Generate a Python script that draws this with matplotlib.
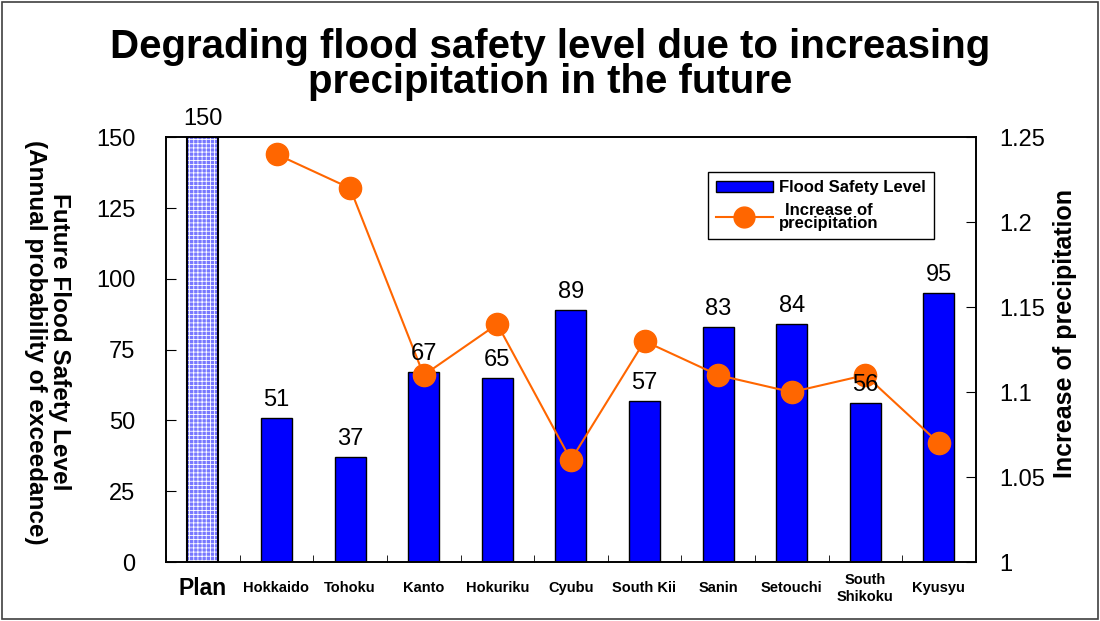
import numpy as np
import matplotlib.pyplot as plt
from matplotlib.patches import Rectangle, Patch
from matplotlib.lines import Line2D

plt.rcParams['font.family'] = ['Liberation Sans', 'DejaVu Sans']
plt.rcParams['hatch.linewidth'] = 0.6

categories = ['Plan', 'Hokkaido', 'Tohoku', 'Kanto', 'Hokuriku', 'Cyubu',
              'South Kii', 'Sanin', 'Setouchi', 'South\nShikoku', 'Kyusyu']
safety = [150, 51, 37, 67, 65, 89, 57, 83, 84, 56, 95]
precip = [np.nan, 1.24, 1.22, 1.11, 1.14, 1.06, 1.13, 1.11, 1.10, 1.11, 1.07]

fig = plt.figure(figsize=(11, 6.21), dpi=100)
ax = fig.add_axes([0.151, 0.095, 0.736, 0.684])
x = np.arange(len(categories))
w = 0.42

# plan bar: hatched light blue, others solid blue
ax.bar(x[0], safety[0], w, color='#7878FF', hatch='++++', edgecolor='white', lw=0, zorder=2)
ax.bar(x[0], safety[0], w, facecolor='none', edgecolor='black', lw=1.5, zorder=3)
ax.bar(x[1:], safety[1:], w, color='#0000FF', edgecolor='black', lw=1, zorder=2)

ax.set_xlim(-0.5, len(categories) - 0.5)
ax.set_ylim(0, 150)
ax.set_yticks([0, 25, 50, 75, 100, 125, 150])
ax.tick_params(axis='y', direction='in', length=7, labelsize=17, pad=22)
ax.set_xticks(x)
ax.set_xticklabels(categories, fontsize=10.5, fontweight='bold', linespacing=1.3, va='center')
ax.get_xticklabels()[0].set_fontsize(16.5)
ax.tick_params(axis='x', length=0, pad=19)
ax.set_xticks(np.arange(len(categories) + 1) - 0.5, minor=True)
ax.tick_params(axis='x', which='minor', direction='in', length=5)
ax.set_ylabel('Future Flood Safety Level\n(Annual probability of exceedance)',
              fontsize=17.5, fontweight='bold', linespacing=1.05, rotation=270,
              va='center', ha='center')
ax.yaxis.set_label_coords(-0.147, 0.518)

ax2 = ax.twinx()
ax2.plot(x, precip, color='#FF6600', lw=1.5, marker='o', markersize=16,
         markerfacecolor='#FF6600', markeredgecolor='#FF6600', zorder=4)
ax2.set_ylim(1, 1.25)
ax2.set_yticks([1, 1.05, 1.1, 1.15, 1.2, 1.25])
ax2.set_yticklabels(['1', '1.05', '1.1', '1.15', '1.2', '1.25'])
ax2.tick_params(axis='y', direction='in', length=7, labelsize=17, pad=17)
ax2.set_ylabel('Increase of precipitation', fontsize=18, fontweight='bold',
               va='center', ha='center')
ax2.yaxis.set_label_coords(1.11, 0.539)

# value labels drawn above the line markers
for xi, v in zip(x, safety):
    ax2.text(xi, v + 2.5, str(v), transform=ax.transData, ha='center', va='bottom',
             fontsize=17, zorder=6)

for a in (ax, ax2):
    for s in a.spines.values():
        s.set_linewidth(1.2)

handles = [Patch(facecolor='#0000FF', edgecolor='black'),
           Line2D([], [], color='#FF6600', lw=1.5, marker='o', markersize=15)]
leg = ax2.legend(handles, ['Flood Safety Level', 'Increase of\nprecipitation'],
                 loc='upper left', bbox_to_anchor=(0.669, 0.918), frameon=True,
                 fancybox=False, edgecolor='black', framealpha=1, borderaxespad=0,
                 prop={'weight': 'bold', 'size': 12}, handlelength=3.4,
                 handletextpad=0.4, labelspacing=0.45, borderpad=0.5)
leg.get_frame().set_linewidth(1.0)
leg.set_zorder(7)
for t in leg.get_texts():
    t.set_multialignment('center')
    t.set_linespacing(0.8)

fig.text(0.5, 0.955, 'Degrading flood safety level due to increasing\nprecipitation in the future',
         ha='center', va='top', fontsize=29, fontweight='bold', linespacing=0.9)

fig.patches.append(Rectangle((0.002, 0.003), 0.996, 0.994, transform=fig.transFigure,
                             fill=False, edgecolor='#404040', lw=1.2))

fig.savefig('out.png', dpi=100)
